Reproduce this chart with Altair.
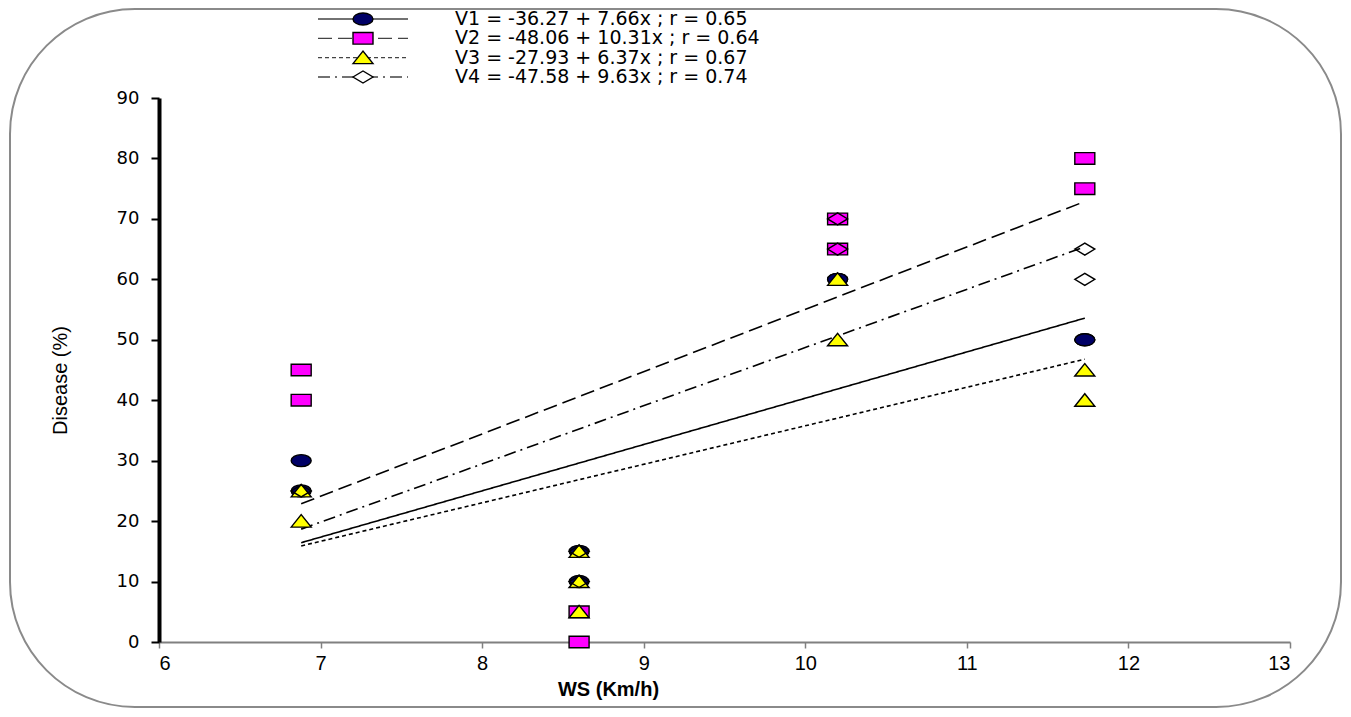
import altair as alt
import pandas as pd

# ---- data ----
series_names = ["V1", "V2", "V3", "V4"]
intercepts = [-36.27, -48.06, -27.93, -47.58]
slopes = [7.66, 10.31, 6.37, 9.63]
r_values = [0.65, 0.64, 0.67, 0.74]
fit_x_range = [6.88, 11.73]

v1_x = [6.88, 6.88, 8.6, 8.6, 10.2, 10.2, 11.73, 11.73]
v1_y = [30, 25, 15, 10, 60, 60, 50, 50]
v2_x = [6.88, 6.88, 8.6, 8.6, 10.2, 10.2, 11.73, 11.73]
v2_y = [45, 40, 5, 0, 70, 65, 80, 75]
v3_x = [6.88, 6.88, 8.6, 8.6, 8.6, 10.2, 10.2, 11.73, 11.73]
v3_y = [25, 20, 15, 10, 5, 60, 50, 45, 40]
v4_x = [6.88, 8.6, 8.6, 10.2, 10.2, 11.73, 11.73]
v4_y = [25, 15, 10, 70, 65, 65, 60]

x_ticks = [6, 7, 8, 9, 10, 11, 12, 13]
y_ticks = [0, 10, 20, 30, 40, 50, 60, 70, 80, 90]

# ---- styling ----
narrow_font = "Liberation Sans Narrow, Liberation Sans, Arial, sans-serif"
shape_paths = [
    "M-1,0A1,0.6,0,1,1,1,0A1,0.6,0,1,1,-1,0Z",
    "M-1,-0.58H1V0.58H-1Z",
    "M-1,0.6L0,-0.65L1,0.6Z",
    "M-1,0L0,-0.6L1,0L0,0.6Z",
]
fill_colors = ["#000066", "#ff00ff", "#ffff00", "transparent"]
dash_styles = [[1, 0], [14, 6], [4, 3], [12, 5, 2, 5]]

pts = []
for name, xs, ys in [("V1", v1_x, v1_y), ("V2", v2_x, v2_y), ("V3", v3_x, v3_y), ("V4", v4_x, v4_y)]:
    for xv, yv in zip(xs, ys):
        pts.append({"series": name, "x": xv, "y": yv})
points_df = pd.DataFrame(pts)

fit_rows = []
for name, a, b in zip(series_names, intercepts, slopes):
    for xv in fit_x_range:
        fit_rows.append({"series": name, "x": xv, "y": a + b * xv})
fit_df = pd.DataFrame(fit_rows)

legend_df = pd.DataFrame({
    "series": series_names,
    "label": [f"{n} = {a:.2f} + {b:.2f}x ; r = {r:.2f}" for n, a, b, r in zip(series_names, intercepts, slopes, r_values)],
})

shape_scale = alt.Scale(domain=series_names, range=shape_paths)
fill_scale = alt.Scale(domain=series_names, range=fill_colors)
dash_scale = alt.Scale(domain=series_names, range=dash_styles)

x_enc = alt.X("x:Q", scale=alt.Scale(domain=[6, 13], nice=False, zero=False),
              axis=alt.Axis(values=x_ticks, format="d", grid=False, domainColor="#808080", domainWidth=2,
                            tickColor="#808080", tickWidth=1.5, tickSize=6,
                            labelFont=narrow_font, labelFontSize=20, labelColor="black",
                            labelPadding=5, title="WS (Km/h)", titleFont="Liberation Sans, Arial, sans-serif",
                            titleFontWeight="bold", titleFontSize=20, titleColor="black",
                            titleX=449, titleY=37))
y_enc = alt.Y("y:Q", scale=alt.Scale(domain=[0, 90], nice=False),
              axis=alt.Axis(values=y_ticks, format="d", grid=False, domainColor="black", domainWidth=4,
                            tickColor="black", tickWidth=2, tickSize=8,
                            labelFont="DejaVu Sans", labelFontSize=18, labelColor="black",
                            labelPadding=12, title="Disease (%)", titleFont=narrow_font,
                            titleFontSize=20, titleFontWeight="normal", titleColor="black",
                            titleX=-89, titleY=282))

lines = alt.Chart(fit_df).mark_line(color="black", strokeWidth=1.6).encode(
    x=x_enc, y=y_enc,
    detail="series:N",
    strokeDash=alt.StrokeDash("series:N", scale=dash_scale, legend=None),
)

points = alt.Chart(points_df).mark_point(filled=True, opacity=1, size=400, stroke="black",
                                         strokeWidth=1.4).encode(
    x="x:Q", y="y:Q",
    shape=alt.Shape("series:N", scale=shape_scale, legend=None),
    fill=alt.Fill("series:N", scale=fill_scale, legend=None),
    order=alt.Order("series:N"),
)

plot = alt.layer(lines, points)

ly = alt.Y("series:N", scale=alt.Scale(type="point", range=[-79, -21], padding=0), axis=None)

leg_lines = alt.Chart(legend_df).mark_rule(color="#444444", strokeWidth=1.3).encode(
    x=alt.value(159), x2=alt.value(249), y=ly,
    strokeDash=alt.StrokeDash("series:N", scale=dash_scale, legend=None),
)
leg_points = alt.Chart(legend_df).mark_point(filled=True, opacity=1, size=400, stroke="black",
                                             strokeWidth=1.4).encode(
    x=alt.value(204), y=ly,
    shape=alt.Shape("series:N", scale=shape_scale, legend=None),
    fill=alt.Fill("series:N", scale=alt.Scale(domain=series_names,
                                              range=["#000066", "#ff00ff", "#ffff00", "white"]), legend=None),
)
leg_text = alt.Chart(legend_df).mark_text(align="left", baseline="middle", font="DejaVu Sans",
                                          fontSize=19, color="black").encode(
    x=alt.value(296), y=ly, text="label:N",
)
frame = alt.Chart(pd.DataFrame({"k": [0]})).mark_rect(
    fill="transparent", stroke="#8a8a8a", strokeWidth=2, cornerRadius=125
).encode(x=alt.value(-149), x2=alt.value(1182), y=alt.value(-89), y2=alt.value(609))

legend = alt.layer(frame, leg_lines, leg_points, leg_text)

chart = alt.layer(plot, legend).resolve_scale(y="independent", fill="independent").properties(
    width=1131, height=544,
    padding={"left": 151, "top": 90, "right": 53, "bottom": 67},
    autosize=alt.AutoSizeParams(type="none"),
).configure_view(stroke=None)

chart.save("out.html", embed_options={"renderer": "svg", "actions": False})
